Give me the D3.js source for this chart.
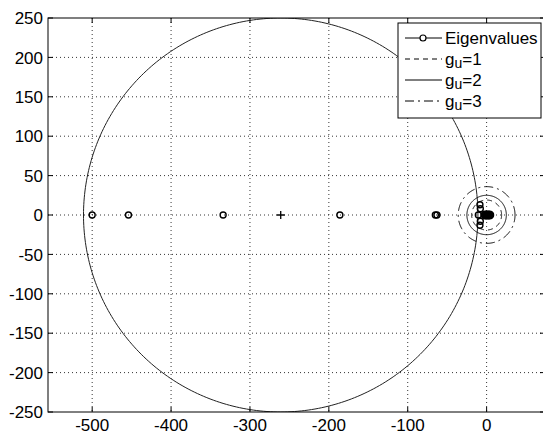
<!DOCTYPE html>
<html>
<head>
<meta charset="utf-8">
<script src="https://cdn.jsdelivr.net/npm/d3@7"></script>
<style>
  body { margin: 0; background: #fff; }
  text { font-family: "Liberation Sans", Arial, sans-serif; fill: #000; }
</style>
</head>
<body>
<div id="chart"></div>
<script>
// eigenvalue locus plot with stability circles

// eigenvalues (real / imaginary parts)
const eigRe = [-500, -454, -334, -186, -65, -63, -10.5, -8.5, -8.5, -8, -8,
               -3, -2, -1, 0, 1, 2, 3, 4, 5, -2, 0, 2, 4, -2, 0, 2, 4];
const eigIm = [0, 0, 0, 0, 0, 0, 0, 13, -13, 8, -8,
               0, 0, 0, 0, 0, 0, 0, 0, 0, 1, 1, 1, 1, -1, -1, -1, -1];

// big circle (center / radius) and its center marker
const bigCenter = [-261, 0];
const bigRadius = 250;

// g_u circles around the origin
const guLabels = ["1", "2", "3"];
const guRadii = [19, 25, 36];
const guDash = ["5,4", null, "9,4,2,4"];

// axis ticks
const xTicks = [-500, -400, -300, -200, -100, 0];
const yTicks = [-250, -200, -150, -100, -50, 0, 50, 100, 150, 200, 250];

const width = 543, height = 435;
const pLeft = 48, pRight = 545, pTop = 18, pBottom = 412;

const svg = d3.select("#chart").append("svg")
  .attr("width", width)
  .attr("height", height);

const x = d3.scaleLinear().domain([-556, 74]).range([pLeft, pRight]);
const y = d3.scaleLinear().domain([-250, 250]).range([pBottom, pTop]);

svg.append("defs").append("clipPath").attr("id", "clip")
  .append("rect")
  .attr("x", pLeft).attr("y", pTop)
  .attr("width", pRight - pLeft).attr("height", pBottom - pTop);

// ----- grid -----
const grid = svg.append("g").attr("stroke", "#000").attr("stroke-width", 0.8)
  .attr("stroke-dasharray", "1,3");
grid.selectAll(".gx").data(xTicks).enter().append("line")
  .attr("x1", d => x(d)).attr("x2", d => x(d))
  .attr("y1", pTop).attr("y2", pBottom);
grid.selectAll(".gy").data(yTicks.filter(d => d > -250 && d < 250)).enter().append("line")
  .attr("x1", pLeft).attr("x2", pRight)
  .attr("y1", d => y(d)).attr("y2", d => y(d));

const plot = svg.append("g").attr("clip-path", "url(#clip)");

// circle drawn through the scales
function circlePoints(cx, cy, r) {
  const pts = [];
  for (let i = 0; i <= 360; i++) {
    const a = i * Math.PI / 180;
    pts.push([cx + r * Math.cos(a), cy + r * Math.sin(a)]);
  }
  return pts;
}
const line = d3.line().x(d => x(d[0])).y(d => y(d[1]));

plot.append("path")
  .attr("d", line(circlePoints(bigCenter[0], bigCenter[1], bigRadius)))
  .attr("fill", "none").attr("stroke", "#222").attr("stroke-width", 1);

guRadii.forEach((r, i) => {
  plot.append("path")
    .attr("d", line(circlePoints(0, 0, r)))
    .attr("fill", "none").attr("stroke", "#000").attr("stroke-width", 1)
    .attr("stroke-dasharray", guDash[i]);
});

// center "+" marker
const cx = x(bigCenter[0]), cy = y(bigCenter[1]);
plot.append("path")
  .attr("d", `M${cx - 4},${cy}H${cx + 4}M${cx},${cy - 4}V${cy + 4}`)
  .attr("stroke", "#000").attr("stroke-width", 1.3);

// eigenvalue markers
plot.selectAll(".eig").data(eigRe).enter().append("circle")
  .attr("cx", d => x(d))
  .attr("cy", (d, i) => y(eigIm[i]))
  .attr("r", 3)
  .attr("fill", "none").attr("stroke", "#000").attr("stroke-width", 1.4);

// ----- axes box + ticks -----
svg.append("rect")
  .attr("x", pLeft).attr("y", pTop)
  .attr("width", pRight - pLeft).attr("height", pBottom - pTop)
  .attr("fill", "none").attr("stroke", "#000").attr("stroke-width", 1);

const tl = 5;
const ticks = svg.append("g").attr("stroke", "#000").attr("stroke-width", 1);
xTicks.forEach(t => {
  ticks.append("line").attr("x1", x(t)).attr("x2", x(t)).attr("y1", pBottom).attr("y2", pBottom - tl);
  ticks.append("line").attr("x1", x(t)).attr("x2", x(t)).attr("y1", pTop).attr("y2", pTop + tl);
});
yTicks.forEach(t => {
  ticks.append("line").attr("x1", pLeft).attr("x2", pLeft + tl).attr("y1", y(t)).attr("y2", y(t));
  ticks.append("line").attr("x1", pRight).attr("x2", pRight - tl).attr("y1", y(t)).attr("y2", y(t));
});

svg.selectAll(".xl").data(xTicks).enter().append("text")
  .attr("x", d => x(d)).attr("y", pBottom + 19)
  .attr("text-anchor", "middle").style("font-size", "17px")
  .text(d => d);
svg.selectAll(".yl").data(yTicks).enter().append("text")
  .attr("x", pLeft - 5).attr("y", d => y(d)).attr("dy", "0.36em")
  .attr("text-anchor", "end").style("font-size", "17px")
  .text(d => d);

// ----- legend -----
const lg = svg.append("g").attr("transform", "translate(398,23)");
lg.append("rect").attr("width", 143).attr("height", 95)
  .attr("fill", "#fff").attr("stroke", "#000").attr("stroke-width", 1);

const rowY = i => 15 + i * 21;
lg.append("line").attr("x1", 7).attr("x2", 44).attr("y1", rowY(0)).attr("y2", rowY(0))
  .attr("stroke", "#000").attr("stroke-width", 1);
lg.append("circle").attr("cx", 25).attr("cy", rowY(0)).attr("r", 3)
  .attr("fill", "#fff").attr("stroke", "#000").attr("stroke-width", 1.2);
lg.append("text").attr("x", 47).attr("y", rowY(0)).attr("dy", "0.36em")
  .style("font-size", "17px").text("Eigenvalues");

guLabels.forEach((g, i) => {
  const yy = rowY(i + 1);
  lg.append("line").attr("x1", 7).attr("x2", 44).attr("y1", yy).attr("y2", yy)
    .attr("stroke", "#000").attr("stroke-width", 1)
    .attr("stroke-dasharray", guDash[i]);
  const t = lg.append("text").attr("x", 47).attr("y", yy).attr("dy", "0.36em")
    .style("font-size", "17px");
  t.append("tspan").text("g");
  t.append("tspan").attr("dy", "3").style("font-size", "14px").text("u");
  t.append("tspan").attr("dy", "-3").text("=" + g);
});
</script>
</body>
</html>
